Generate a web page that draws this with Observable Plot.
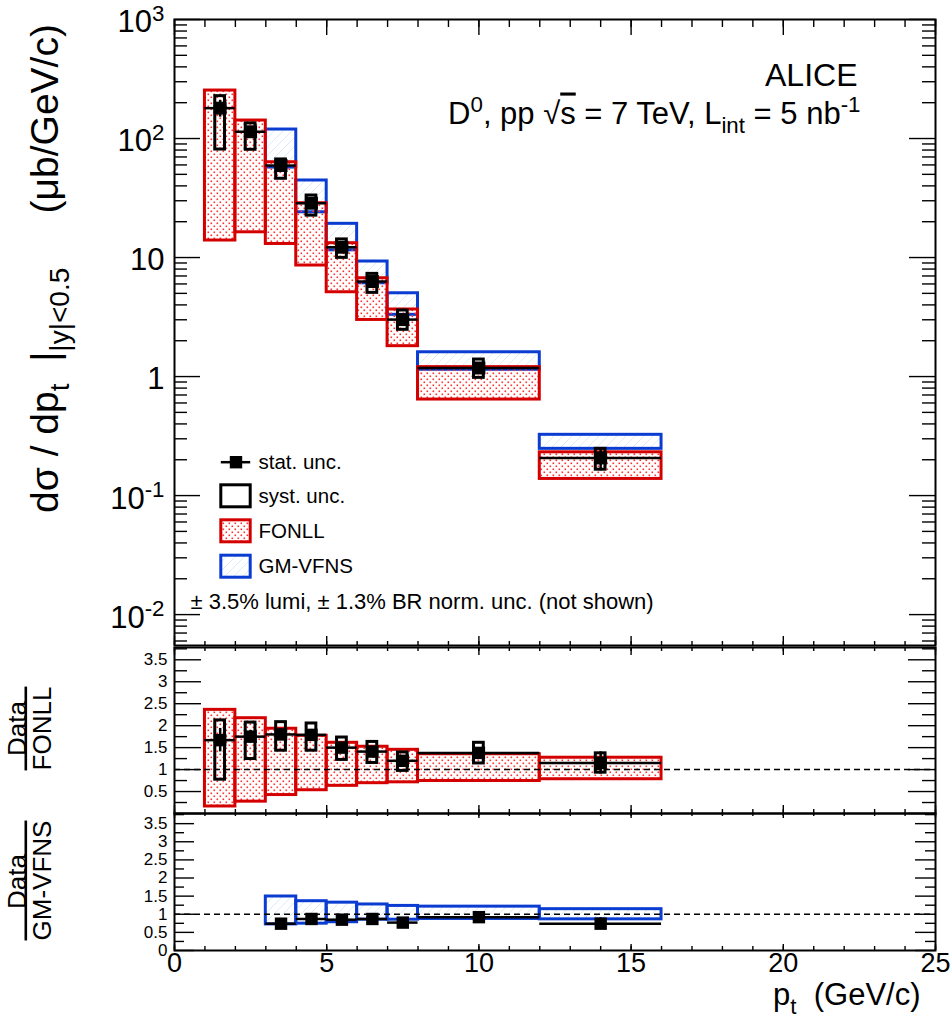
<!DOCTYPE html>
<html><head><meta charset="utf-8">
<script src="https://cdn.jsdelivr.net/npm/d3@7"></script>
<script src="https://cdn.jsdelivr.net/npm/@observablehq/plot@0.6"></script>
<style>
body{margin:0;background:#fff;}
#wrap{position:relative;width:950px;height:1018px;overflow:hidden;}
#wrap svg.layer{position:absolute;left:0;top:0;}
</style></head>
<body>
<svg width="0" height="0" style="position:absolute">
<defs>
<pattern id="dots" patternUnits="userSpaceOnUse" width="6" height="6">
 <rect x="0.5" y="0.5" width="1.6" height="1.6" fill="#ff3030"/>
 <rect x="3.5" y="3.5" width="1.6" height="1.6" fill="#ff3030"/>
</pattern>
<pattern id="hatch" patternUnits="userSpaceOnUse" width="9" height="9">
 <path d="M-1,10 L10,-1 M-5.5,5.5 L5.5,-5.5 M3.5,14.5 L14.5,3.5" stroke="#d3ebfc" stroke-width="0.9"/>
</pattern>
</defs></svg>
<div id="wrap"></div>
<script>
// ---------------- data ----------------
const binLo    = [1, 2, 3, 4, 5, 6, 7, 8, 12];
const binHi    = [2, 3, 4, 5, 6, 7, 8, 12, 16];
const ptCenter = [1.5, 2.5, 3.5, 4.5, 5.5, 6.5, 7.5, 10, 14];
const xsec     = [180, 114, 59.3, 28.6, 12.2, 6.29, 3.01, 1.18, 0.207];
const systLo   = [80.8, 80.4, 45.9, 22.5, 9.94, 5.05, 2.47, 0.975, 0.165];
const systHi   = [227, 134, 66.7, 33.2, 14.2, 7.29, 3.59, 1.39, 0.247];
const statRel  = [0.16, 0.08, 0.07, 0.07, 0.07, 0.08, 0.08, 0.07, 0.22];
const fonllLo  = [13.9, 16.3, 13.0, 8.57, 5.11, 2.99, 1.80, 0.641, 0.138];
const fonllHi  = [253, 141.6, 63.2, 28.6, 13.2, 6.70, 3.66, 1.20, 0.231];
const gmvfnsLo = [null, null, 57, 24.0, 11.5, 6.08, 3.30, 1.14, 0.247];
const gmvfnsHi = [null, null, 119, 44.4, 19.2, 9.26, 5.01, 1.60, 0.324];

const ratioFonll       = [1.67, 1.75, 1.80, 1.79, 1.50, 1.41, 1.20, 1.38, 1.15];
const ratioFonllSystLo = [0.77, 1.24, 1.43, 1.43, 1.22, 1.15, 0.97, 1.14, 0.93];
const ratioFonllSystHi = [2.12, 2.07, 2.08, 2.05, 1.73, 1.63, 1.39, 1.61, 1.37];
const fonllBandLo      = [0.16, 0.27, 0.42, 0.53, 0.63, 0.69, 0.71, 0.74, 0.78];
const fonllBandHi      = [2.36, 2.17, 1.93, 1.77, 1.61, 1.52, 1.45, 1.35, 1.27];

const ratioGm  = [null, null, 0.74, 0.87, 0.85, 0.87, 0.77, 0.92, 0.74];
const gmBandLo = [null, null, 0.72, 0.74, 0.78, 0.85, 0.85, 0.87, 0.86];
const gmBandHi = [null, null, 1.49, 1.36, 1.32, 1.27, 1.23, 1.21, 1.14];

const xTickValues     = [0, 5, 10, 15, 20, 25];
const xTickLabels     = ["0", "5", "10", "15", "20", "25"];
const topTickValues   = [0.01, 0.1, 1, 10, 100, 1000];
const topTickLabels   = ["10^{-2}", "10^{-1}", "1", "10", "10^{2}", "10^{3}"];
const ratioTickValues = [0, 0.5, 1, 1.5, 2, 2.5, 3, 3.5];
const ratioTickLabels = ["0", "0.5", "1", "1.5", "2", "2.5", "3", "3.5"];
const legendLabels    = ["stat. unc.", "syst. unc.", "FONLL", "GM-VFNS"];
const noteText        = "± 3.5% lumi, ± 1.3% BR norm. unc. (not shown)";

// ---------------- layout ----------------
const W = 950, H = 1018, L = 174, R = 935;
const topY0 = 19, topY1 = 645, midY0 = 647, midY1 = 813, botY0 = 813, botY1 = 950;
const FW = R - L;
const yTopDomain = [0.0055, 1000];
const ratioDomain = [0, 3.78];
const RED = "#d40000", BLUE = "#0a3cd2", FONT = "'Liberation Sans', Arial, Helvetica, sans-serif";
const SYS_HALF = 0.16;

const rows = binLo.map((lo, i) => ({
  lo, hi: binHi[i], pt: ptCenter[i], v: xsec[i], sLo: systLo[i], sHi: systHi[i], st: statRel[i],
  fLo: fonllLo[i], fHi: fonllHi[i], gLo: gmvfnsLo[i], gHi: gmvfnsHi[i],
  rF: ratioFonll[i], rFsLo: ratioFonllSystLo[i], rFsHi: ratioFonllSystHi[i], bFLo: fonllBandLo[i], bFHi: fonllBandHi[i],
  rG: ratioGm[i], bGLo: gmBandLo[i], bGHi: gmBandHi[i]
}));
const gmRows = rows.filter(d => d.gHi != null);

const xMinor = d3.range(0, 26);
const topMinor = [];
for (let e = -3; e <= 2; e++) for (let k = 2; k <= 9; k++) {
  const v = k * Math.pow(10, e);
  if (v > yTopDomain[0] && v < yTopDomain[1]) topMinor.push(v);
}
const ratioMinor = d3.range(0.25, 3.78, 0.5);

function ticks(fh, yMaj, yMin, yMajLen, yMinLen, xTopMaj, xTopMin, xBotMaj, xBotMin) {
  const sw = 1.4;
  return [
    Plot.tickY(yMaj, {insetRight: FW - yMajLen, strokeWidth: sw}),
    Plot.tickY(yMin, {insetRight: FW - yMinLen, strokeWidth: sw}),
    Plot.tickY(yMaj, {insetLeft: FW - yMajLen, strokeWidth: sw}),
    Plot.tickY(yMin, {insetLeft: FW - yMinLen, strokeWidth: sw}),
    Plot.tickX(xTickValues, {insetBottom: fh - xTopMaj, strokeWidth: sw}),
    Plot.tickX(xMinor, {insetBottom: fh - xTopMin, strokeWidth: sw}),
    Plot.tickX(xTickValues, {insetTop: fh - xBotMaj, strokeWidth: sw}),
    Plot.tickX(xMinor, {insetTop: fh - xBotMin, strokeWidth: sw})
  ];
}

// rich text: ^{sup}, _{sub}, ~{overline}
function richify(svg) {
  d3.select(svg).selectAll("text").each(function () {
    const el = this, s = el.textContent;
    if (!/[\^_~]\{/.test(s)) return;
    const fs = parseFloat(getComputedStyle(el).fontSize) || 16;
    el.textContent = "";
    const re = /([\^_~])\{([^}]*)\}/g;
    let last = 0, m, shift = 0;
    const add = (txt, kind) => {
      if (!txt) return;
      const t = d3.select(el).append("tspan").text(txt);
      let target = 0;
      if (kind === "^") { target = -0.36 * fs; t.attr("font-size", 0.72 * fs); }
      else if (kind === "_") { target = 0.3 * fs; t.attr("font-size", 0.72 * fs); }
      else if (kind === "~") { t.style("text-decoration", "overline"); }
      const dy = target - shift;
      if (dy) t.attr("dy", dy);
      shift = target;
    };
    while ((m = re.exec(s))) { add(s.slice(last, m.index), ""); add(m[2], m[1]); last = re.lastIndex; }
    add(s.slice(last), "");
  });
}

const wrap = document.getElementById("wrap");
function layer(marginTop, marginBottom, y, marks) {
  const svg = Plot.plot({
    width: W, height: H,
    marginLeft: L, marginRight: W - R, marginTop, marginBottom,
    x: {domain: [0, 25], axis: null},
    y: {...y, axis: null},
    style: {background: "transparent", overflow: "visible", fontFamily: FONT, color: "black"},
    marks
  });
  svg.classList.add("layer");
  wrap.appendChild(svg);
  richify(svg);
  return svg;
}

// inverse scales for placing legend items
const xs = d3.scaleLinear([0, 25], [L, R]);
const ysTop = d3.scaleLog(yTopDomain, [topY1, topY0]);
const legRows = [461.7, 495.8, 530.8, 566.2];
const swX1 = xs.invert(220.8), swX2 = xs.invert(250.2), swH = 11;

// ---------------- top panel ----------------
layer(topY0, H - topY1, {type: "log", domain: yTopDomain}, [
  Plot.rect(gmRows, {x1: "lo", x2: "hi", y1: "gLo", y2: "gHi", fill: "url(#hatch)", stroke: BLUE, strokeWidth: 3}),
  Plot.rect(rows, {x1: "lo", x2: "hi", y1: "fLo", y2: "fHi", fill: "url(#dots)", stroke: RED, strokeWidth: 3}),
  Plot.ruleY(rows, {x1: "lo", x2: "hi", y: "v", stroke: "black", strokeWidth: 2.5}),
  Plot.rect(rows, {x1: d => d.pt - SYS_HALF, x2: d => d.pt + SYS_HALF, y1: "sLo", y2: "sHi", fill: "none", stroke: "black", strokeWidth: 3}),
  Plot.ruleX(rows, {x: "pt", y1: d => d.v * (1 - d.st), y2: d => d.v * (1 + d.st), stroke: "black", strokeWidth: 2.5}),
  Plot.dot(rows, {x: "pt", y: "v", symbol: "square", r: 7.3, fill: "black"}),
  // legend
  Plot.ruleY([legRows[0]], {x1: swX1, x2: swX2, y: d => ysTop.invert(d), stroke: "black", strokeWidth: 2.5}),
  Plot.dot([legRows[0]], {x: (swX1 + swX2) / 2, y: d => ysTop.invert(d), symbol: "square", r: 7, fill: "black"}),
  Plot.rect([legRows[1]], {x1: swX1, x2: swX2, y1: d => ysTop.invert(d + swH), y2: d => ysTop.invert(d - swH), fill: "none", stroke: "black", strokeWidth: 3}),
  Plot.rect([legRows[2]], {x1: swX1, x2: swX2, y1: d => ysTop.invert(d + swH), y2: d => ysTop.invert(d - swH), fill: "url(#dots)", stroke: RED, strokeWidth: 3}),
  Plot.rect([legRows[3]], {x1: swX1, x2: swX2, y1: d => ysTop.invert(d + swH), y2: d => ysTop.invert(d - swH), fill: "url(#hatch)", stroke: BLUE, strokeWidth: 3}),
  Plot.text(legendLabels, {x: xs.invert(258), y: (d, i) => ysTop.invert(legRows[i]), text: d => d, textAnchor: "start", fontSize: 20.5}),
  Plot.text([noteText], {x: xs.invert(190), y: ysTop.invert(601), text: d => d, textAnchor: "start", fontSize: 22}),
  // annotations
  Plot.text(["ALICE"], {frameAnchor: "top-right", text: d => d, dx: 857 - R, dy: 85 - topY0, textAnchor: "end", lineAnchor: "bottom", fontSize: 32}),
  Plot.text(["D^{0}, pp √~{s} = 7 TeV, L_{int} = 5 nb^{-1}"], {frameAnchor: "top-right", text: d => d, dx: 860 - R, dy: 123 - topY0, textAnchor: "end", lineAnchor: "bottom", fontSize: 31}),
  // axes
  ...ticks(topY1 - topY0, topTickValues, topMinor, 26, 13, 16, 8, 9, 4),
  Plot.text(topTickValues, {y: d => d, text: (d, i) => topTickLabels[i], frameAnchor: "left", textAnchor: "end", dx: -10, dy: 3, fontSize: 31}),
  Plot.text(["dσ / dp_{t}  |_{|y|<0.5}     (μb/GeV/c)"], {frameAnchor: "left", text: d => d, rotate: -90, dx: 57 - L, dy: 268 - (topY0 + topY1) / 2, textAnchor: "middle", lineAnchor: "bottom", fontSize: 39}),
  Plot.frame({stroke: "black", strokeWidth: 2})
]);

// ---------------- Data / FONLL ----------------
layer(midY0, H - midY1, {domain: ratioDomain}, [
  Plot.rect(rows, {x1: "lo", x2: "hi", y1: "bFLo", y2: "bFHi", fill: "url(#dots)", stroke: RED, strokeWidth: 3}),
  Plot.ruleY([1], {stroke: "black", strokeWidth: 1.5, strokeDasharray: "6,4"}),
  Plot.ruleY(rows, {x1: "lo", x2: "hi", y: "rF", stroke: "black", strokeWidth: 2.5}),
  Plot.rect(rows, {x1: d => d.pt - SYS_HALF, x2: d => d.pt + SYS_HALF, y1: "rFsLo", y2: "rFsHi", fill: "none", stroke: "black", strokeWidth: 3}),
  Plot.ruleX(rows, {x: "pt", y1: d => d.rF * (1 - d.st), y2: d => d.rF * (1 + d.st), stroke: "black", strokeWidth: 2.5}),
  Plot.dot(rows, {x: "pt", y: "rF", symbol: "square", r: 7, fill: "black"}),
  ...ticks(midY1 - midY0, ratioTickValues, ratioMinor, 27, 13, 8, 4, 8, 4),
  Plot.text(ratioTickValues.filter(v => v > 0), {y: d => d, text: d => ratioTickLabels[ratioTickValues.indexOf(d)], frameAnchor: "left", textAnchor: "end", dx: -7, fontSize: 17}),
  Plot.text(["Data"], {frameAnchor: "left", text: d => d, rotate: -90, dx: 25 - L, dy: 728 - (midY0 + midY1) / 2, textAnchor: "middle", lineAnchor: "bottom", fontSize: 26}),
  Plot.text(["~{FONLL}"], {frameAnchor: "left", text: d => d, rotate: -90, dx: 50 - L, dy: 728 - (midY0 + midY1) / 2, textAnchor: "middle", lineAnchor: "bottom", fontSize: 26}),
  Plot.frame({stroke: "black", strokeWidth: 2})
]);

// ---------------- Data / GM-VFNS ----------------
layer(botY0, H - botY1, {domain: ratioDomain}, [
  Plot.rect(gmRows, {x1: "lo", x2: "hi", y1: "bGLo", y2: "bGHi", fill: "url(#hatch)", stroke: BLUE, strokeWidth: 3}),
  Plot.ruleY([1], {stroke: "black", strokeWidth: 1.5, strokeDasharray: "6,4"}),
  Plot.ruleY(gmRows, {x1: "lo", x2: "hi", y: "rG", stroke: "black", strokeWidth: 2.5}),
  Plot.ruleX(gmRows, {x: "pt", y1: d => d.rG * (1 - d.st), y2: d => d.rG * (1 + d.st), stroke: "black", strokeWidth: 2.5}),
  Plot.dot(gmRows, {x: "pt", y: "rG", symbol: "square", r: 7, fill: "black"}),
  ...ticks(botY1 - botY0, ratioTickValues, ratioMinor, 20, 10, 5, 3, 6, 4),
  Plot.text(ratioTickValues, {y: d => d, text: (d, i) => ratioTickLabels[i], frameAnchor: "left", textAnchor: "end", dx: -7, fontSize: 17}),
  Plot.text(["Data"], {frameAnchor: "left", text: d => d, rotate: -90, dx: 25 - L, dy: 881 - (botY0 + botY1) / 2, textAnchor: "middle", lineAnchor: "bottom", fontSize: 26}),
  Plot.text(["~{GM-VFNS}"], {frameAnchor: "left", text: d => d, rotate: -90, dx: 50 - L, dy: 880 - (botY0 + botY1) / 2, textAnchor: "middle", lineAnchor: "bottom", fontSize: 26}),
  Plot.text(xTickValues, {x: d => d, text: (d, i) => xTickLabels[i], frameAnchor: "bottom", lineAnchor: "top", dy: 2, fontSize: 27}),
  Plot.text(["p_{t}  (GeV/c)"], {frameAnchor: "bottom-right", text: d => d, dx: 920 - R, dy: 1004 - botY1, textAnchor: "end", lineAnchor: "bottom", fontSize: 31}),
  Plot.frame({stroke: "black", strokeWidth: 2})
]);
</script>
</body></html>
